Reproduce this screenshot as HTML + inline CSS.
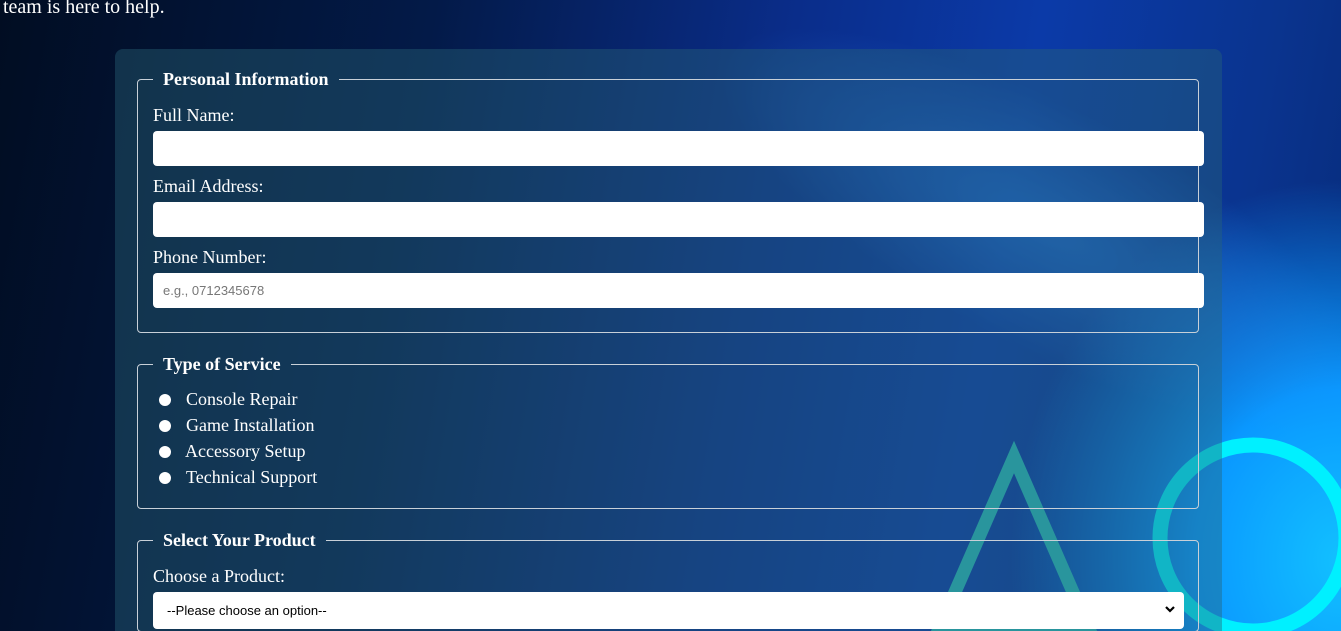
<!DOCTYPE html>
<html><head><meta charset="utf-8"><style>
html,body{margin:0;padding:0;width:1341px;height:631px;overflow:hidden;font-family:"Liberation Serif",serif;color:#fff}
body{position:relative;background:
radial-gradient(ellipse 330px 380px at 1341px 560px,#12c0ff 0%,#0a98ff 45%,rgba(10,100,240,0) 100%),
linear-gradient(100deg,#010d22 0%,#031a48 30%,#0a2d8a 55%,#0b3aa8 72%,#0a348f 88%,#072a78 100%)}
.glow{position:absolute;left:650px;top:100px;width:800px;height:260px;background:radial-gradient(ellipse at 50% 50%,rgba(40,130,230,.55),rgba(0,0,0,0) 65%);transform:rotate(28deg)}
.top{position:absolute;left:3px;top:-4px;font-size:20px}
svg.bg{position:absolute;left:0;top:0}
.panel{position:absolute;left:115px;top:49px;width:1107px;height:582px;background:rgba(40,100,120,.42);border-radius:8px 8px 0 0}
fieldset{position:absolute;left:137px;width:1045px;border:1px solid #c8d0d8;border-radius:4px;margin:0;padding:0 0 0 15px}
legend{font-weight:bold;font-size:18px;padding:0 10px;margin-left:0}
label.l{position:absolute;left:15px;font-size:18px}
.inp{position:absolute;left:15px;width:1051px;height:35px;background:#fff;border-radius:4px;border:0;box-sizing:border-box;font-family:"Liberation Sans",sans-serif;font-size:13px;color:#777;padding:10px}
.r{position:absolute;left:21px;width:12px;height:12px;border-radius:50%;background:#fff}
.rl{position:absolute;left:48px;font-size:18px}
</style></head><body>
<div class="glow"></div>
<svg class="bg" width="1341" height="631">
<polygon points="1014,457 1090,631 938,631" fill="none" stroke="#2ab8b8" stroke-width="13"/>
<circle cx="1253" cy="538" r="93" fill="none" stroke="#00f0ff" stroke-width="15"/>
</svg>
<div class="top">team is here to help.</div>
<div class="panel"></div>

<fieldset style="top:69px;height:262px">
<legend>Personal Information</legend>
<label class="l" style="top:15px">Full Name:</label>
<div class="inp" style="top:41px"></div>
<label class="l" style="top:86px">Email Address:</label>
<div class="inp" style="top:112px"></div>
<label class="l" style="top:157px">Phone Number:</label>
<div class="inp" style="top:183px">e.g., 0712345678</div>
</fieldset>

<fieldset style="top:354px;height:153px">
<legend>Type of Service</legend>
<div class="r" style="top:19px"></div><span class="rl" style="top:14px">Console Repair</span>
<div class="r" style="top:45px"></div><span class="rl" style="top:40px">Game Installation</span>
<div class="r" style="top:71px"></div><span class="rl" style="top:66px;left:47px">Accessory Setup</span>
<div class="r" style="top:97px"></div><span class="rl" style="top:92px">Technical Support</span>
</fieldset>

<fieldset style="top:530px;height:100px">
<legend>Select Your Product</legend>
<label class="l" style="top:15px">Choose a Product:</label>
<div class="inp" style="top:41px;width:1031px;height:37px;color:#000;padding:11px 14px;font-size:13px">--Please choose an option--<svg style="position:absolute;right:9px;top:14px" width="10" height="8"><polyline points="1,1 5,5 9,1" fill="none" stroke="#000" stroke-width="2.2"/></svg></div>
</fieldset>
</body></html>
